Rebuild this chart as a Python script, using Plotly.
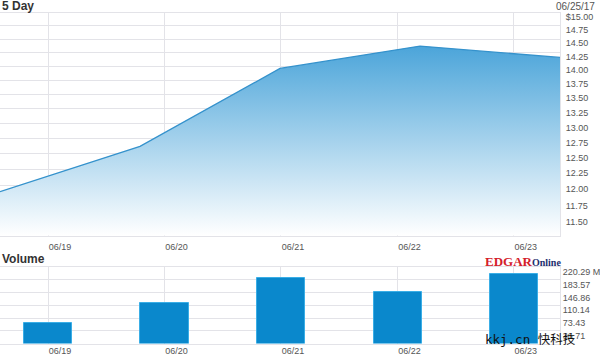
import plotly.graph_objects as go
import math

# ---- data ----
day_labels = ["06/19", "06/20", "06/21", "06/22", "06/23"]
day_ticks = [0.343, 1.175, 2.007, 2.840, 3.670]          # position of each day label on the sample axis
price_x = [0, 1, 2, 3, 4]
price_y = [11.90, 12.62, 13.96, 14.37, 14.16]
price_ticks = [11.50, 11.75, 12.00, 12.25, 12.50, 12.75, 13.00, 13.25, 13.50, 13.75, 14.00, 14.25, 14.50, 14.75, 15.00]
price_ticktext = ["11.50", "11.75", "12.00", "12.25", "12.50", "12.75", "13.00", "13.25", "13.50", "13.75",
                  "14.00", "14.25", "14.50", "14.75", "$15.00"]
volume = [59.9, 117.5, 187.8, 147.4, 200.1]              # millions
vol_ticks = [36.71, 73.43, 110.14, 146.86, 183.57, 220.29]
vol_ticktext = ["36.71", "73.43", "110.14", "146.86", "183.57", "220.29 M"]

W, H = 600, 356
GRID = "#e3e3e8"
TXT = "#555555"
FONT = "Liberation Sans, Arial, sans-serif"

fig = go.Figure()

price_min, price_max = 11.242, 15.0
fig.add_trace(go.Scatter(x=price_x, y=[11.0] * len(price_x), mode="lines",
                         line=dict(width=0), hoverinfo="skip", showlegend=False,
                         xaxis="x", yaxis="y"))
fig.add_trace(go.Scatter(x=price_x, y=price_y, mode="lines",
                         line=dict(color="#3592cc", width=1.3),
                         fill="tonexty",
                         fillgradient=dict(type="vertical", start=price_min, stop=price_max,
                                           colorscale=[[0, "#ffffff"], [1, "#2c95d3"]]),
                         showlegend=False, xaxis="x", yaxis="y"))

fig.add_trace(go.Bar(x=day_ticks, y=volume, width=0.343,
                     marker=dict(color="#0a88cc", line=dict(color="#3aaee6", width=1)),
                     showlegend=False, xaxis="x2", yaxis="y2"))

xdom = [0, 560 / W]
top_dom = [1 - 235.5 / H, 1 - 13 / H]
vol_dom = [1 - 343.5 / H, 1 - 267 / H]

axis_common = dict(showgrid=True, gridcolor=GRID, gridwidth=1, zeroline=False,
                   showline=True, linecolor=GRID, mirror=True, automargin=False,
                   tickfont=dict(family=FONT, size=9, color=TXT))

fig.update_layout(
    width=W, height=H, margin=dict(l=0, r=0, t=0, b=0),
    paper_bgcolor="white", plot_bgcolor="white",
    xaxis=dict(domain=xdom, anchor="y", range=[0, 4], tickvals=day_ticks, ticktext=day_labels,
               ticklabelshift=12, ticklabelstandoff=3, **axis_common),
    yaxis=dict(domain=top_dom, anchor="x", type="log",
               range=[math.log10(price_min), math.log10(price_max)],
               tickvals=price_ticks, ticktext=price_ticktext, side="right",
               ticklabelshift=4, ticklabelstandoff=3, **axis_common),
    xaxis2=dict(domain=xdom, anchor="y2", range=[0, 4], tickvals=day_ticks, ticktext=day_labels,
                ticklabelshift=12, ticklabelstandoff=-1, **axis_common),
    yaxis2=dict(domain=vol_dom, anchor="x2", range=[0, 220.29],
                tickvals=vol_ticks, ticktext=vol_ticktext, side="right",
                ticklabelshift=5, ticklabelstandoff=0, **axis_common),
    bargap=0,
)

fig.add_annotation(text="<b>5 Day</b>", xref="paper", yref="paper", x=0, y=1 - 6 / H,
                   xanchor="left", yanchor="middle", showarrow=False,
                   font=dict(family=FONT, size=12, color="#333333"))
fig.add_annotation(text="06/25/17", xref="paper", yref="paper", x=597 / W, y=1 - 6 / H,
                   xanchor="right", yanchor="middle", showarrow=False,
                   font=dict(family=FONT, size=10, color=TXT))
fig.add_annotation(text="<b>Volume</b>", xref="paper", yref="paper", x=0, y=1 - 259 / H,
                   xanchor="left", yanchor="middle", showarrow=False,
                   font=dict(family=FONT, size=12, color="#333333"))
fig.add_annotation(text="<b><span style='color:#d4202a'>EDGAR</span>"
                        "<span style='color:#1d2f6e;font-size:10px'>Online</span></b>",
                   xref="paper", yref="paper", x=483 / W, y=1 - 261 / H,
                   xanchor="left", yanchor="middle", showarrow=False,
                   font=dict(family="Liberation Serif, Times New Roman, serif", size=13))
fig.add_annotation(text="kkj.cn 快科技", xref="paper", yref="paper", x=483 / W, y=1 - 339 / H,
                   xanchor="left", yanchor="middle", showarrow=False,
                   font=dict(family="DejaVu Sans Mono, Noto Sans CJK SC", size=12.5, color="#111111"))

fig.write_html("out.html")
